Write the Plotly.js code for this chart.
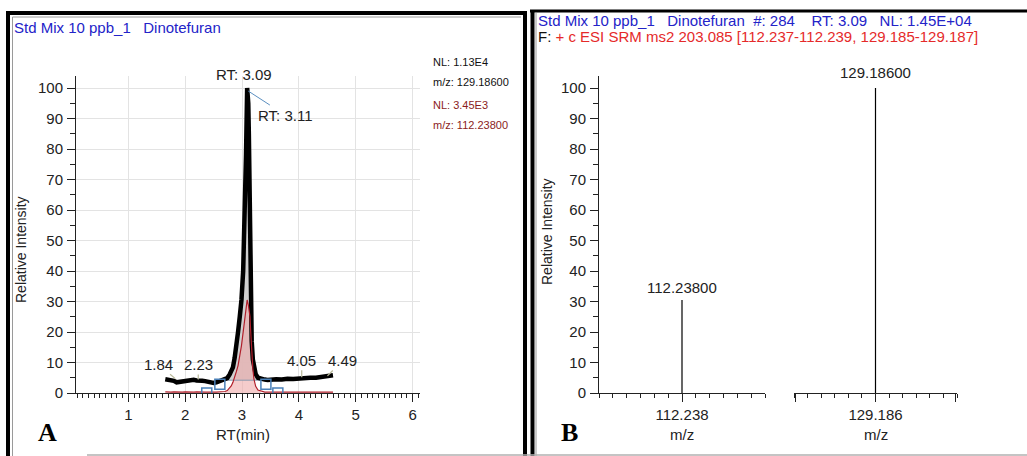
<!DOCTYPE html>
<html>
<head>
<meta charset="utf-8">
<script src="https://cdn.plot.ly/plotly-3.0.1.min.js"></script>
<style>
html,body{margin:0;padding:0;background:#fff;}
#chart{width:1027px;height:456px;}
</style>
</head>
<body>
<div id="chart"></div>
<script>
// ---------- Data ----------
// Panel A: extracted ion chromatogram (retention time, min)
const rtMin = [1.65,1.70,1.75,1.80,1.85,1.90,1.95,2.00,2.05,2.10,2.15,2.20,2.25,2.30,2.35,2.40,2.45,2.50,2.55,2.60,2.65,2.70,2.74,2.78,2.81,2.84,2.87,2.90,2.93,2.96,2.99,3.02,3.05,3.07,3.09,3.11,3.12,3.13,3.14,3.15,3.16,3.17,3.19,3.21,3.24,3.28,3.33,3.40,3.45,3.50,3.60,3.70,3.80,3.90,4.00,4.10,4.20,4.30,4.40,4.50,4.60];
// m/z 129.186 trace (relative intensity, NL 1.13E4)
const int129 = [4.5,4.3,4.4,4.0,3.5,3.6,3.9,4.1,4.0,4.2,4.3,4.1,4.2,4.0,3.9,3.6,3.4,3.3,3.5,3.8,4.3,4.6,4.9,6.0,7.2,8.4,11.5,15.0,20.0,25.0,30.5,40.0,58.0,78.0,100,95,85,65,45,33,22,17,11,8.0,6.2,5.0,4.6,4.4,4.3,4.4,4.5,4.4,4.7,4.6,4.8,4.9,5.0,5.0,5.2,5.4,5.8];
// m/z 112.238 trace (relative intensity, NL 3.45E3)
const int112 = [0.4,0.3,0.3,0.4,0.3,0.3,0.3,0.4,0.3,0.3,0.3,0.4,0.3,0.3,0.3,0.3,0.4,0.3,0.3,0.3,0.4,0.5,0.8,1.5,2.3,3.5,5.0,7.0,9.0,12.0,15.5,20.0,24.0,27.5,30.5,29.0,27.5,27.0,25.0,21.0,17.0,14.0,8.0,4.5,2.2,1.0,0.6,0.3,0.3,0.3,0.3,0.3,0.3,0.3,0.3,0.3,0.3,0.3,0.3,0.3,0.3];
// integration window markers
const intStart = 2.61, intEnd = 3.42, intBase = 4.2;
const markX = [2.61, 2.38, 3.42, 3.63];
const markY = [2.9, 0, 2.9, 0];
// peak labels
const rtLabels = ['1.84','2.23','4.05','4.49'];
const rtLabelY = [4.5, 4.1, 4.8, 5.4];
const apexLabels = ['RT: 3.09','RT: 3.11'];
const apexRT = [3.09, 3.11];

// Panel B: SRM mass spectrum
const msMz = [112.238, 129.186];
const msInt = [30.5, 100];
const msLabels = ['112.23800','129.18600'];
const msTicks = ['112.238','129.186'];

// ---------- helpers ----------
const W = 1027, H = 456;
const X = p => p / W;
const Y = p => 1 - p / H;
const FONT = 'Liberation Sans, Arial, sans-serif';
const yDom = [Y(393), Y(393 - 104 * 3.05)];

// fill polygon for 129 peak (between trace and integration baseline)
const fillX = [], fillY = [];
rtMin.forEach((t, i) => { if (t >= intStart && t <= intEnd) { fillX.push(t); fillY.push(Math.max(int129[i], intBase)); } });
fillX.push(intEnd, intStart); fillY.push(intBase, intBase);
// pink fill under 112 peak
const pinkX = [], pinkY = [];
rtMin.forEach((t, i) => { if (t >= 2.70 && t <= 3.35) { pinkX.push(t); pinkY.push(int112[i]); } });

const traces = [
  {x: fillX, y: fillY, type: 'scatter', mode: 'lines', fill: 'toself', fillcolor: 'rgba(200,200,200,0.85)', line: {width: 0}, xaxis: 'x', yaxis: 'y', hoverinfo: 'skip'},
  {x: pinkX, y: pinkY, type: 'scatter', mode: 'lines', fill: 'tozeroy', fillcolor: 'rgba(238,170,170,0.6)', line: {width: 0}, xaxis: 'x', yaxis: 'y', hoverinfo: 'skip'},
  {x: [intStart, intEnd], y: [intBase, intBase], type: 'scatter', mode: 'lines', line: {color: '#8a9ab0', width: 1}, xaxis: 'x', yaxis: 'y'},
  {x: rtMin, y: int129, type: 'scatter', mode: 'lines', line: {color: '#000', width: 4.5}, xaxis: 'x', yaxis: 'y'},
  {x: rtMin, y: int112, type: 'scatter', mode: 'lines', line: {color: '#b01e2a', width: 1.2}, xaxis: 'x', yaxis: 'y'},
  {x: markX, y: markY, type: 'scatter', mode: 'markers', marker: {symbol: 'square-open', size: 10, color: '#4a80b8', line: {width: 1.5}}, xaxis: 'x', yaxis: 'y'},
  // stick spectrum, segment 1
  {x: [msMz[0], msMz[0]], y: [0, msInt[0]], type: 'scatter', mode: 'lines', line: {color: '#000', width: 1.2}, xaxis: 'x2', yaxis: 'y2'},
  // segment 2
  {x: [msMz[1], msMz[1]], y: [0, msInt[1]], type: 'scatter', mode: 'lines', line: {color: '#000', width: 1.2}, xaxis: 'x3', yaxis: 'y2'}
];

const tickFont = {family: FONT, size: 15, color: '#222'};
const yCommon = {
  range: [0, 104], domain: yDom, tickmode: 'array',
  tickvals: [0,10,20,30,40,50,60,70,80,90,100],
  ticks: 'outside', ticklen: 8, tickcolor: '#222', tickwidth: 1,
  showline: true, linecolor: '#222', linewidth: 1, zeroline: false,
  tickfont: tickFont, ticklabelstandoff: 1,
  minor: {tickmode: 'linear', tick0: 0, dtick: 5, ticks: 'outside', ticklen: 5, tickcolor: '#222', showgrid: false}
};

const layout = {
  width: W, height: H, margin: {l: 0, r: 0, t: 0, b: 0},
  paper_bgcolor: '#fff', plot_bgcolor: 'rgba(0,0,0,0)',
  showlegend: false, font: {family: FONT},
  xaxis: {
    domain: [X(76), X(420)], range: [0.08, 6.13], anchor: 'y',
    tickmode: 'linear', tick0: 0, dtick: 1, ticks: 'outside', ticklen: 8, tickcolor: '#222',
    showline: true, linecolor: '#222', zeroline: false,
    showgrid: true, gridcolor: '#e3e3e3', gridwidth: 1, tickfont: tickFont,
    minor: {tickmode: 'linear', tick0: 0, dtick: 0.1, ticks: 'outside', ticklen: 4, tickcolor: '#222', showgrid: false}
  },
  yaxis: Object.assign({}, yCommon, {anchor: 'x', showgrid: true, gridcolor: '#e3e3e3'}),
  xaxis2: {
    domain: [X(599), X(765)], range: [112.232, 112.244], anchor: 'y2',
    tickmode: 'array', tickvals: [msMz[0]], ticktext: [msTicks[0]],
    ticks: 'outside', ticklen: 8, tickcolor: '#222', showline: true, linecolor: '#222',
    zeroline: false, showgrid: false, tickfont: tickFont,
    minor: {tickmode: 'linear', tick0: 112.232, dtick: 0.001, ticks: 'outside', ticklen: 4, tickcolor: '#222', showgrid: false}
  },
  xaxis3: {
    domain: [X(794), X(957)], range: [129.180, 129.192], anchor: 'y2',
    tickmode: 'array', tickvals: [129.1801, msMz[1], 129.1919], ticktext: ['', msTicks[1], ''],
    ticks: 'outside', ticklen: 8, tickcolor: '#222', showline: true, linecolor: '#222',
    zeroline: false, showgrid: false, tickfont: tickFont,
    minor: {tickmode: 'linear', tick0: 129.180, dtick: 0.001, ticks: 'outside', ticklen: 4, tickcolor: '#222', showgrid: false}
  },
  yaxis2: Object.assign({}, yCommon, {anchor: 'x2', showgrid: false}),
  shapes: [
    // panel A frame
    {type: 'line', xref: 'paper', yref: 'paper', x0: X(8), x1: X(8), y0: Y(11), y1: Y(460), line: {color: '#000', width: 4}},
    {type: 'line', xref: 'paper', yref: 'paper', x0: X(6), x1: X(527), y0: Y(13), y1: Y(13), line: {color: '#000', width: 4}},
    {type: 'line', xref: 'paper', yref: 'paper', x0: X(525), x1: X(525), y0: Y(11), y1: Y(460), line: {color: '#000', width: 4}},
    {type: 'line', xref: 'paper', yref: 'paper', x0: X(12.5), x1: X(12.5), y0: Y(17), y1: Y(456), line: {color: '#9a9a9a', width: 1}},
    {type: 'line', xref: 'paper', yref: 'paper', x0: X(12.5), x1: X(521), y0: Y(17), y1: Y(17), line: {color: '#9a9a9a', width: 1}},
    // panel B frame
    {type: 'line', xref: 'paper', yref: 'paper', x0: X(532.5), x1: X(532.5), y0: Y(10), y1: Y(460), line: {color: '#000', width: 4}},
    {type: 'line', xref: 'paper', yref: 'paper', x0: X(530), x1: X(1030), y0: Y(11), y1: Y(11), line: {color: '#000', width: 3}},
    {type: 'line', xref: 'paper', yref: 'paper', x0: X(536), x1: X(536), y0: Y(13), y1: Y(456), line: {color: '#9a9a9a', width: 1}},
    // bottom edge
    {type: 'line', xref: 'paper', yref: 'paper', x0: X(87), x1: X(1027), y0: Y(455), y1: Y(455), line: {color: '#b0b0b0', width: 1.5}}
  ],
  annotations: []
};

const A = layout.annotations;
const txt = (text, px, py, size, color, xanchor, extra) => Object.assign({
  text: text, xref: 'paper', yref: 'paper', x: X(px), y: Y(py), xanchor: xanchor || 'center', yanchor: 'middle',
  showarrow: false, font: {family: FONT, size: size, color: color || '#222'}
}, extra || {});

// headers
A.push(txt('Std Mix 10 ppb_1\u00a0\u00a0\u00a0Dinotefuran', 12, 27, 15, '#2323c8', 'left'));
A.push(txt('Std Mix 10 ppb_1\u00a0\u00a0\u00a0Dinotefuran\u00a0\u00a0#: 284\u00a0\u00a0\u00a0\u00a0RT: 3.09\u00a0\u00a0\u00a0NL: 1.45E+04', 536, 21, 15, '#2323c8', 'left'));
A.push(txt('F: <span style="color:#e52a2a">+ c ESI SRM ms2 203.085 [112.237-112.239, 129.185-129.187]</span>', 536, 37, 15, '#111', 'left'));
// NL legend
A.push(txt('NL: 1.13E4', 431, 62, 11, '#111', 'left'));
A.push(txt('m/z: 129.18600', 431, 82, 11, '#111', 'left'));
A.push(txt('NL: 3.45E3', 431, 105, 11, '#8b1c1c', 'left'));
A.push(txt('m/z: 112.23800', 431, 125, 11, '#8b1c1c', 'left'));
// axis titles
A.push(txt('Relative Intensity', 21, 250, 14, '#222', 'center', {textangle: -90}));
A.push(txt('Relative Intensity', 547, 232, 14, '#222', 'center', {textangle: -90}));
A.push(txt('RT(min)', 243, 434, 15, '#222'));
A.push(txt('m/z', 682, 434, 15, '#222'));
A.push(txt('m/z', 876, 434, 15, '#222'));
// panel letters
A.push(txt('<b>A</b>', 47, 432, 26, '#000', 'center', {font: {family: 'Liberation Serif, Times New Roman, serif', size: 26, color: '#000'}}));
A.push(txt('<b>B</b>', 569, 432, 26, '#000', 'center', {font: {family: 'Liberation Serif, Times New Roman, serif', size: 26, color: '#000'}}));

// apex labels
A.push({text: apexLabels[0], x: apexRT[0], y: 100, xref: 'x', yref: 'y', xanchor: 'center', yanchor: 'bottom', yshift: 3, xshift: -3,
  showarrow: false, font: {family: FONT, size: 15, color: '#222'}});
A.push({text: apexLabels[1], x: apexRT[1], y: 99, xref: 'x', yref: 'y', showarrow: true, arrowhead: 0, arrowwidth: 1,
  arrowcolor: '#5b8fc0', ax: 37, ay: 24, standoff: 0, font: {family: FONT, size: 15, color: '#222'}});
// baseline labels
const offs = [[-18, -15], [0, -16], [0, -18], [16, -16]];
rtLabels.forEach((l, i) => {
  A.push({text: l, x: parseFloat(l), y: rtLabelY[i], xref: 'x', yref: 'y', showarrow: true, arrowhead: 0, arrowwidth: 1.2,
    arrowcolor: '#b9b99a', ax: offs[i][0], ay: offs[i][1], standoff: 1, font: {family: FONT, size: 15, color: '#222'}});
});
// spectrum labels
A.push({text: msLabels[0], x: msMz[0], y: msInt[0], xref: 'x2', yref: 'y2', xanchor: 'center', yanchor: 'bottom', yshift: 2,
  showarrow: false, font: {family: FONT, size: 15, color: '#222'}});
A.push({text: msLabels[1], x: msMz[1], y: msInt[1], xref: 'x3', yref: 'y2', xanchor: 'center', yanchor: 'bottom', yshift: 5,
  showarrow: false, font: {family: FONT, size: 15, color: '#222'}});

Plotly.newPlot('chart', traces, layout, {staticPlot: true, displayModeBar: false});
</script>
</body>
</html>
